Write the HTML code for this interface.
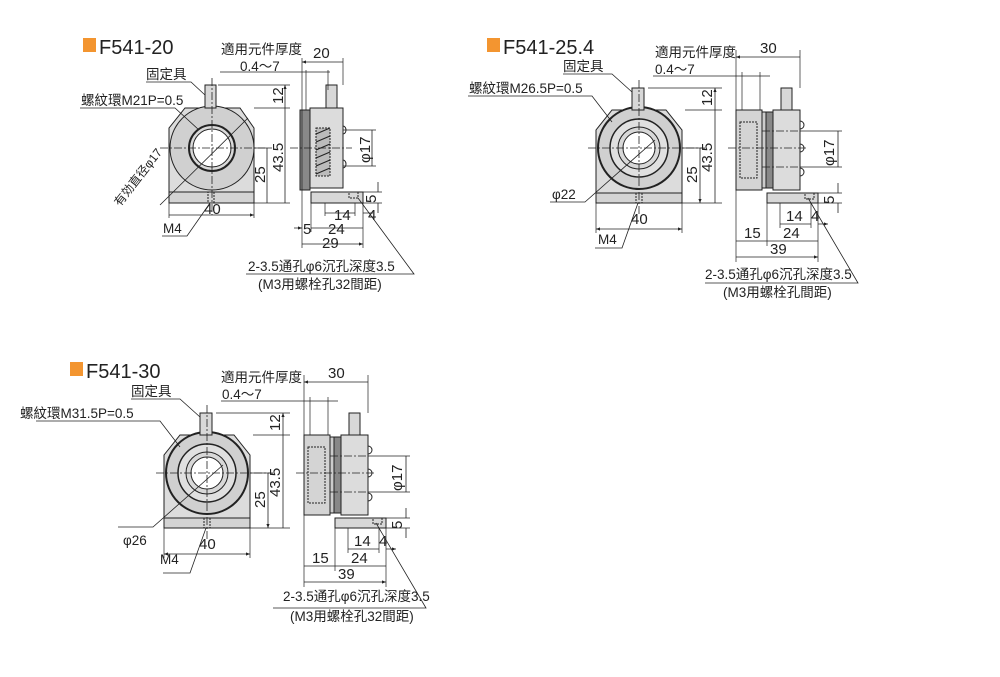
<!DOCTYPE html>
<html><head><meta charset="utf-8"><style>
html,body{margin:0;padding:0;background:#fff;}
svg{display:block;}
text{font-family:"Liberation Sans","Noto Sans CJK SC",sans-serif;fill:#222;}
.t{font-size:13.5px;}
.d{font-size:15px;}
.h{font-size:20px;}
</style></head><body>
<svg width="1000" height="677" viewBox="0 0 1000 677" xmlns="http://www.w3.org/2000/svg">
<defs>
<marker id="a" viewBox="0 0 10 10" refX="10" refY="5" markerWidth="5" markerHeight="5" orient="auto-start-reverse"><path d="M0,1 L10,5 L0,9z" fill="#222"/></marker>
<g id="d2" stroke="#222" stroke-width="1" fill="none">
  <polygon points="596,193 596,130 612,110 666,110 682,130 682,193" fill="#dcdcdc"/>
  <rect x="596" y="193" width="86" height="10" fill="#d4d4d4"/>
  <circle cx="639" cy="148" r="41" fill="#d0d0d0" stroke-width="2"/>
  <circle cx="639" cy="148" r="29" fill="#e0e0e0" stroke-width="1.5"/>
  <circle cx="639" cy="148" r="21" fill="#d8d8d8"/>
  <circle cx="639" cy="148" r="16" fill="#fff"/>
  <rect x="632" y="88" width="12" height="22" fill="#d8d8d8"/>
  <rect x="636" y="193" width="6" height="10" stroke-dasharray="2,1"/>
  <path d="M588,148 H702 M639,80 V215" stroke-dasharray="8,2,2,2" stroke-width=".8"/>
  <path d="M648,88 H722 M685,110 H722 M682,148 H705 M682,203 H722" stroke-width=".7"/>
  <path d="M715,88 V110 M715,110 V203 M700,148 V203" marker-start="url(#a)" marker-end="url(#a)" stroke-width=".8"/>
  <path d="M596,203 V233 M682,203 V233" stroke-width=".7"/>
  <path d="M596,229 H682" marker-start="url(#a)" marker-end="url(#a)" stroke-width=".8"/>
  <path d="M595,248 H622 L638,203 M550,202 H585 L655,140 M468,96 H592 L612,122 M563,74 H612 L632,92" stroke-width=".8"/>
  <rect x="736" y="110" width="26" height="80" fill="#d4d4d4"/>
  <rect x="740" y="122" width="17" height="56" stroke-dasharray="2,1"/>
  <rect x="762" y="112" width="11" height="76" fill="#888"/>
  <rect x="762" y="112" width="4" height="76" fill="#ccc"/>
  <rect x="773" y="110" width="27" height="80" fill="#dcdcdc"/>
  <rect x="781" y="88" width="11" height="22" fill="#d8d8d8"/>
  <path d="M800,121 a4,4 0 0 1 0,8 M800,144 a4,4 0 0 1 0,8 M800,168 a4,4 0 0 1 0,8"/>
  <rect x="767" y="193" width="51" height="10" fill="#d8d8d8"/>
  <rect x="805" y="193" width="9" height="6" stroke-dasharray="2,1"/>
  <path d="M728,148 H808 M762,131 H800 M762,167 H800" stroke-dasharray="8,2,2,2" stroke-width=".8"/>
  <path d="M736,50 V262 M800,50 V88 M742,72 V110 M760,72 V110 M653,76 H770 M800,131 H842 M800,167 H842 M818,193 H842 M818,203 H842 M767,203 V246 M780,203 V228 M811,203 V228 M818,203 V262" stroke-width=".7"/>
  <path d="M736,57 H800 M838,131 V167 M780,224 H811 M736,241 H767 M767,241 H818 M736,257 H818" marker-start="url(#a)" marker-end="url(#a)" stroke-width=".8"/>
  <path d="M838,183 V193 M838,213 V203 M818,224 H828" marker-end="url(#a)" stroke-width=".8"/>
  <path d="M705,283 H858 L808,198" stroke-width=".8"/>
</g>
</defs>

<rect x="83" y="38" width="13" height="14" fill="#f39530"/>
<text class="h" x="99" y="54">F541-20</text>
<g stroke="#222" stroke-width="1" fill="none">
  <polygon points="169,192 169,128 185,108 240,108 254,128 254,192" fill="#dcdcdc"/>
  <rect x="169" y="192" width="85" height="11" fill="#d4d4d4"/>
  <circle cx="212" cy="148" r="42" fill="#d0d0d0"/>
  <circle cx="212" cy="148" r="23" fill="#dadada" stroke-width="2"/>
  <circle cx="212" cy="148" r="19" fill="#fff"/>
  <rect x="205" y="85" width="11" height="23" fill="#d8d8d8"/>
  <rect x="208" y="192" width="6" height="11" stroke-dasharray="2,1"/>
  <path d="M160,148 H265 M212,78 V215" stroke-dasharray="8,2,2,2" stroke-width=".8"/>
  <path d="M218,85 H290 M254,108 H290 M254,148 H272 M254,203 H290 M169,203 V218 M254,203 V218" stroke-width=".7"/>
  <path d="M285,85 V108 M285,108 V203 M267,148 V203 M169,215 H254" marker-start="url(#a)" marker-end="url(#a)" stroke-width=".8"/>
  <path d="M146,82 H191 L205,95 M80,108 H175 L199,130 M162,236 H187 L210,203 M160,205 L248,118" stroke-width=".8"/>
  <rect x="300" y="110" width="10" height="80" fill="#888"/>
  <rect x="310" y="108" width="33" height="80" fill="#dcdcdc"/>
  <rect x="316" y="128" width="14" height="48" fill="#bbb" stroke-dasharray="2,1"/>
  <path d="M316,134 L330,128 M316,142 L330,136 M316,150 L330,144 M316,158 L330,152 M316,166 L330,160 M316,174 L330,168"/>
  <rect x="326" y="85" width="11" height="23" fill="#d8d8d8"/>
  <path d="M343,126 a3,4 0 0 1 0,8 M343,160 a3,4 0 0 1 0,8"/>
  <rect x="311" y="192" width="52" height="11" fill="#d8d8d8"/>
  <rect x="349" y="192" width="9" height="6" stroke-dasharray="2,1"/>
  <path d="M290,148 H352" stroke-dasharray="8,2,2,2" stroke-width=".8"/>
  <path d="M302,58 V248 M343,58 V85 M306,70 V110 M328,70 V90 M220,72 H330 M343,130 H376 M343,166 H376 M363,192 H382 M363,203 H382 M311,203 V232 M325,203 V216 M355,203 V216 M363,203 V248" stroke-width=".7"/>
  <path d="M302,62 H343 M372,130 V166 M325,213 H355 M311,228 H363 M302,244 H363" marker-start="url(#a)" marker-end="url(#a)" stroke-width=".8"/>
  <path d="M378,182 V192 M378,213 V203 M363,213 H373 M294,228 H302" marker-end="url(#a)" stroke-width=".8"/>
  <path d="M246,274 H414 L358,198" stroke-width=".8"/>
</g>
<g class="t">
<text x="221" y="54">適用元件厚度</text>
<text x="240" y="71">0.4～7</text>
<text x="146" y="79">固定具</text>
<text x="81" y="105">螺紋環M21P=0.5</text>
<text x="163" y="233">M4</text>
<text transform="translate(120,207) rotate(-52)" font-size="12">有効直径φ17</text>
<text x="248" y="271">2-3.5通孔φ6沉孔深度3.5</text>
<text x="258" y="289">(M3用螺栓孔32間距)</text>
</g>
<g class="d">
<text x="313" y="58">20</text>
<text transform="translate(283,104) rotate(-90)">12</text>
<text transform="translate(283,172) rotate(-90)">43.5</text>
<text transform="translate(265,183) rotate(-90)">25</text>
<text x="204" y="214">40</text>
<text transform="translate(370,163) rotate(-90)">φ17</text>
<text transform="translate(376,203) rotate(-90)">5</text>
<text x="334" y="220">14</text>
<text x="368" y="220">4</text>
<text x="328" y="234">24</text>
<text x="303" y="234">5</text>
<text x="322" y="248">29</text>
</g>

<rect x="487" y="38" width="13" height="14" fill="#f39530"/>
<text class="h" x="503" y="54">F541-25.4</text>
<use href="#d2"/>
<g class="t">
<text x="655" y="57">適用元件厚度</text>
<text x="655" y="74">0.4～7</text>
<text x="563" y="71">固定具</text>
<text x="469" y="93">螺紋環M26.5P=0.5</text>
<text x="552" y="199">φ22</text>
<text x="598" y="244">M4</text>
<text x="705" y="279">2-3.5通孔φ6沉孔深度3.5</text>
<text x="723" y="297">(M3用螺栓孔間距)</text>
</g>
<g class="d">
<text x="760" y="53">30</text>
<text transform="translate(712,106) rotate(-90)">12</text>
<text transform="translate(712,172) rotate(-90)">43.5</text>
<text transform="translate(697,183) rotate(-90)">25</text>
<text x="631" y="224">40</text>
<text transform="translate(834,166) rotate(-90)">φ17</text>
<text transform="translate(834,204) rotate(-90)">5</text>
<text x="786" y="221">14</text>
<text x="811" y="221">4</text>
<text x="744" y="238">15</text>
<text x="783" y="238">24</text>
<text x="770" y="254">39</text>
</g>

<rect x="70" y="362" width="13" height="14" fill="#f39530"/>
<text class="h" x="86" y="378">F541-30</text>
<use href="#d2" transform="translate(-432,325)"/>
<g class="t">
<text x="221" y="382">適用元件厚度</text>
<text x="222" y="399">0.4～7</text>
<text x="131" y="396">固定具</text>
<text x="20" y="418">螺紋環M31.5P=0.5</text>
<text x="123" y="545">φ26</text>
<text x="160" y="564">M4</text>
<text x="283" y="601">2-3.5通孔φ6沉孔深度3.5</text>
<text x="290" y="621">(M3用螺栓孔32間距)</text>
</g>
<g class="d">
<text x="328" y="378">30</text>
<text transform="translate(280,431) rotate(-90)">12</text>
<text transform="translate(280,497) rotate(-90)">43.5</text>
<text transform="translate(265,508) rotate(-90)">25</text>
<text x="199" y="549">40</text>
<text transform="translate(402,491) rotate(-90)">φ17</text>
<text transform="translate(402,529) rotate(-90)">5</text>
<text x="354" y="546">14</text>
<text x="379" y="546">4</text>
<text x="312" y="563">15</text>
<text x="351" y="563">24</text>
<text x="338" y="579">39</text>
</g>
</svg>
</body></html>
